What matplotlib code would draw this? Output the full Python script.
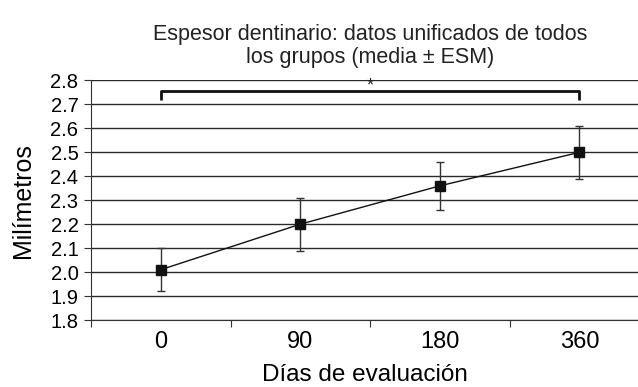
import matplotlib.pyplot as plt
import matplotlib as mpl

# -----------------------------
# THEME
# -----------------------------
mpl.rcParams['font.family'] = ['Liberation Sans', 'DejaVu Sans']
mpl.rcParams['text.color'] = '#222222'

# -----------------------------
# DATA
# -----------------------------
days = ["0", "90", "180", "360"]
means = [2.01, 2.20, 2.36, 2.50]
sem = [0.09, 0.11, 0.10, 0.11]
y_ticks = [1.8, 1.9, 2.0, 2.1, 2.2, 2.3, 2.4, 2.5, 2.6, 2.7, 2.8]

# bracket (significance) between first and last day
bracket_y = 2.755
bracket_drop = 2.72

# -----------------------------
# FIGURE
# -----------------------------
fig = plt.figure(figsize=(6.38, 3.87), dpi=100)
ax = fig.add_axes([0.1426, 0.1731, 0.8574, 0.619])

x = list(range(len(days)))

# horizontal grid
for v in y_ticks:
    ax.axhline(v, color='#2a2a2a', lw=1.0, zorder=1)

ax.errorbar(x, means, yerr=sem, fmt='none', ecolor='#333333',
            elinewidth=1.0, capsize=3, capthick=1.0, zorder=3)
ax.plot(x, means, color='#111111', lw=1.0, marker='s', markersize=7,
        markerfacecolor='#111111', markeredgecolor='#111111', zorder=4)

# significance bracket
ax.plot([x[0], x[0], x[-1], x[-1]],
        [bracket_drop, bracket_y, bracket_y, bracket_drop],
        color='#111111', lw=2.0, zorder=5, solid_capstyle='butt')
ax.text((x[0] + x[-1]) / 2, bracket_y - 0.015, "*", ha='center', va='bottom',
        fontsize=13, zorder=6)

# axes
ax.set_xlim(-0.5, 3.42)
ax.set_ylim(1.8, 2.8)
ax.set_yticks(y_ticks)
ax.set_yticklabels([f"{v:.1f}" for v in y_ticks], fontsize=14.5)
ax.set_xticks([-0.5, 0.5, 1.5, 2.5])
ax.set_xticklabels([])
ax.set_xticks(x, minor=True)
ax.set_xticklabels(days, minor=True, fontsize=17)
ax.tick_params(axis='x', which='minor', length=0, pad=8)
ax.tick_params(axis='x', which='major', length=5, color='#333333')
ax.tick_params(axis='y', length=5, color='#333333', pad=4)

for side in ['top', 'right']:
    ax.spines[side].set_visible(False)
ax.spines['left'].set_color('#333333')
ax.spines['bottom'].set_color('#333333')

ax.set_xlabel("Días de evaluación", fontsize=17.5, labelpad=8)
ax.set_ylabel("Milímetros", fontsize=18, labelpad=11)

fig.text(0.58, 0.937, "Espesor dentinario: datos unificados de todos\nlos grupos (media ± ESM)",
         ha='center', va='top', fontsize=15.5, linespacing=1.1)

fig.savefig("out.png", dpi=100, facecolor='white')
